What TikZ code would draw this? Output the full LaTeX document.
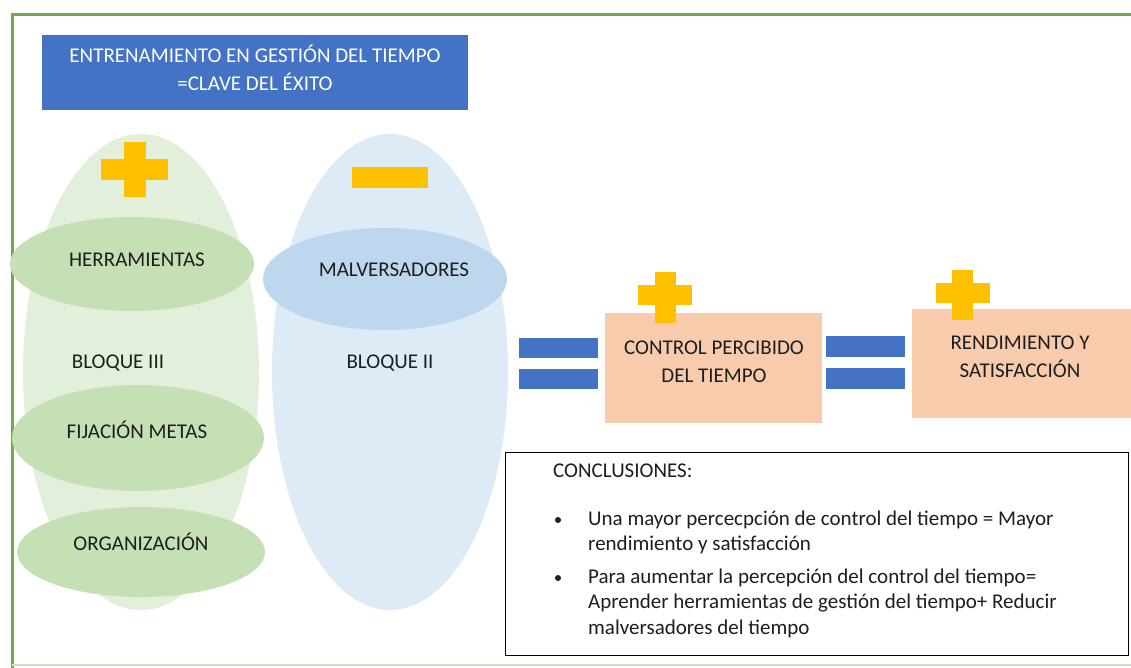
\documentclass[tikz,border=0pt]{standalone}
\usepackage{fontspec}
\setmainfont{Carlito}
\usetikzlibrary{shapes.geometric}
\definecolor{frame}{HTML}{70AD47}
\definecolor{titleblue}{HTML}{4472C4}
\definecolor{bigreen}{HTML}{E2EFDA}
\definecolor{midgreen}{HTML}{C5E0B4}
\definecolor{bigblue}{HTML}{DDEBF7}
\definecolor{midblue}{HTML}{BDD7EE}
\definecolor{peach}{HTML}{F8CBAD}
\definecolor{gold}{HTML}{FFC000}
\definecolor{ink}{HTML}{1E1E1E}
\tikzset{
  lbl/.style={font=\fontsize{21}{28}\selectfont, text=ink, align=center, inner sep=0pt},
  blob/.style={ellipse, draw=none, inner sep=0pt},
  bar/.style={fill=titleblue, draw=none},
  plusbar/.style={fill=gold, draw=none},
  result/.style={fill=peach, draw=none, rectangle, inner sep=0pt, anchor=north west},
}
\begin{document}
\begin{tikzpicture}[x=1pt,y=-1pt]
\useasboundingbox (0,0) rectangle (1131,668);
% outer frame
\draw[frame, line width=3pt] (12,668) -- (12,15) -- (1131,15);
\draw[frame!35, line width=1.5pt] (12,665) -- (1131,665);
% title
\node[fill=titleblue, minimum width=426pt, minimum height=75pt, inner sep=0pt] (title) at (255,72.5) {};
\node[lbl, text=white, font=\fontsize{21}{28}\selectfont] at (255,68) {ENTRENAMIENTO EN GESTIÓN DEL TIEMPO\\=CLAVE DEL ÉXITO};
% block ellipses
\node[blob, fill=bigreen, minimum width=236pt, minimum height=476pt] (b3) at (141,372) {};
\node[blob, fill=bigblue, minimum width=236pt, minimum height=476pt] (b2) at (390,372) {};
% signs
\fill[plusbar] (124,142) rectangle (146,197);
\fill[plusbar] (101,159) rectangle (168,180);
\fill[plusbar] (352,167) rectangle (428,188);
% inner ellipses
\node[blob, fill=midgreen, minimum width=244pt, minimum height=94pt] (herr) at (132,264) {};
\node[lbl] at (137,260) {HERRAMIENTAS};
\node[blob, fill=midblue, minimum width=244pt, minimum height=102pt] (malv) at (385,279) {};
\node[lbl] at (394,270) {MALVERSADORES};
\node[lbl] (l3) at (118,363) {BLOQUE III};
\node[lbl] (l2) at (390,363) {BLOQUE II};
\node[blob, fill=midgreen, minimum width=252pt, minimum height=106pt] (fij) at (138,438) {};
\node[lbl] at (137,430) {FIJACIÓN METAS};
\node[blob, fill=midgreen, minimum width=248pt, minimum height=90pt] (org) at (141,552) {};
\node[lbl] at (141,542) {ORGANIZACIÓN};
% equals signs
\fill[bar] (519,338) rectangle (598,358);
\fill[bar] (519,369) rectangle (598,389);
\fill[bar] (826,336) rectangle (905,357);
\fill[bar] (826,368) rectangle (905,389);
% result boxes
\node[result, minimum width=217pt, minimum height=110pt] (ctrl) at (605,313) {};
\node[lbl] at (714,362) {CONTROL PERCIBIDO\\DEL TIEMPO};
\node[result, minimum width=219pt, minimum height=109pt] (rend) at (912,309) {};
\node[lbl] at (1020,357) {RENDIMIENTO Y\\SATISFACCIÓN};
% plus signs above boxes
\fill[plusbar] (655,272) rectangle (676,323);
\fill[plusbar] (638,285) rectangle (692,305);
\fill[plusbar] (952,270) rectangle (973,320);
\fill[plusbar] (936,283) rectangle (990,303);
% conclusions
\node[draw=black, line width=1.2pt, fill=white, rectangle, inner sep=0pt,
      minimum width=623pt, minimum height=203pt, anchor=north west] (conc) at (505,452) {};
\begin{scope}[every node/.style={lbl, anchor=west, align=left}]
\node (c0) at (553,471) {CONCLUSIONES:};
\node (c1) at (588,520) {Una mayor percecpción de control del tiempo = Mayor};
\node (c2) at (588,545) {rendimiento y satisfacción};
\node (c3) at (588,578) {Para aumentar la percepción del control del tiempo=};
\node (c4) at (588,603) {Aprender herramientas de gestión del tiempo+ Reducir};
\node (c5) at (588,629) {malversadores del tiempo};
\end{scope}
\fill[ink] (558,520) circle (3pt);
\fill[ink] (558,578) circle (3pt);
\end{tikzpicture}
\end{document}
